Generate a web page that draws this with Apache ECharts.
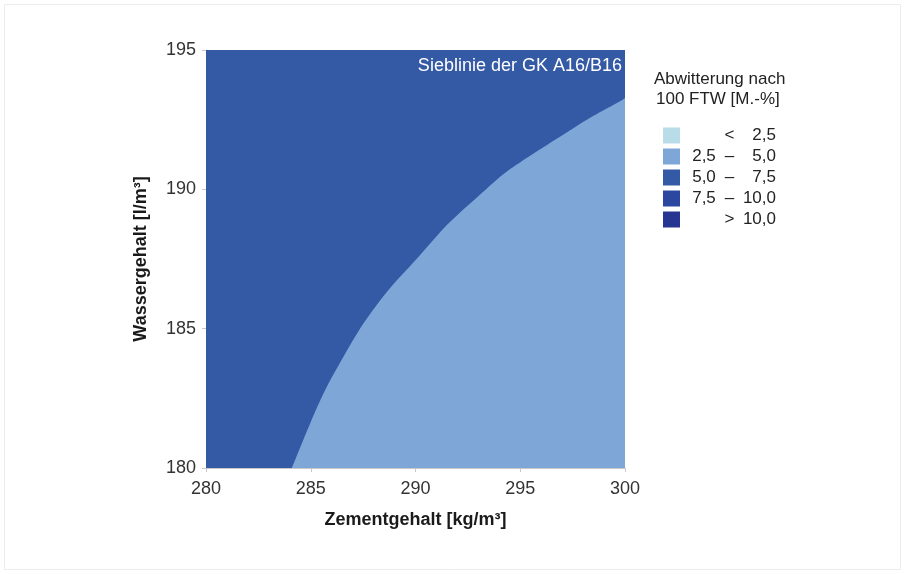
<!DOCTYPE html>
<html>
<head>
<meta charset="utf-8">
<script src="https://cdn.jsdelivr.net/npm/echarts@6/dist/echarts.min.js"></script>
<style>html,body{margin:0;padding:0;background:#fff;}#c{width:906px;height:574px;}</style>
</head>
<body>
<div id="c"></div>
<script>
// Axis ranges / ticks
const xRange = [280, 300];
const yRange = [180, 195];
const tickStep = 5;

// Legend classes (Abwitterung nach 100 FTW [M.-%])
const classNames = ['< 2,5', '2,5 – 5,0', '5,0 – 7,5', '7,5 – 10,0', '> 10,0'];
const classLeft  = ['', '2,5', '5,0', '7,5', ''];
const classMid   = ['<', '–', '–', '–', '>'];
const classRight = ['2,5', '5,0', '7,5', '10,0', '10,0'];
const classColors = ['#b9dce9', '#7ea7d8', '#3459a5', '#2b47a0', '#263592'];

// Region 5,0 – 7,5 : whole field (upper edge of the domain)
const regionDarkTop = [[280, 195], [300, 195]];
// Region 2,5 – 5,0 : below the boundary curve (Zementgehalt, Wassergehalt)
const boundaryCurve = [
  [284.10, 180.00], [284.97, 181.60], [285.69, 182.80], [286.56, 183.99],
  [287.52, 185.19], [288.71, 186.39], [290.15, 187.58], [291.58, 188.78],
  [293.33, 189.98], [294.25, 190.58], [295.40, 191.17], [297.16, 192.01],
  [298.43, 192.61], [299.87, 193.21], [300.00, 193.28]
];

const chart = echarts.init(document.getElementById('c'), null, {renderer: 'canvas'});
const fontFam = 'Liberation Sans, Arial, sans-serif';

const series = classNames.map((n, i) => {
  let data = [];
  if (i === 2) data = regionDarkTop;
  if (i === 1) data = boundaryCurve;
  return {
    name: n,
    type: 'line',
    data: data,
    smooth: i === 1 ? 0.3 : false,
    showSymbol: false,
    symbol: 'none',
    silent: true,
    z: i === 2 ? 1 : 2,
    itemStyle: {color: classColors[i]},
    lineStyle: {width: 0, color: classColors[i]},
    areaStyle: {color: classColors[i], opacity: 1, origin: 'start'}
  };
});

const option = {
  backgroundColor: '#fff',
  animation: false,
  grid: {left: 206, right: 281, top: 50, bottom: 106, containLabel: false},
  xAxis: {
    type: 'value', min: xRange[0], max: xRange[1], interval: tickStep,
    name: 'Zementgehalt [kg/m³]', nameLocation: 'middle', nameGap: 43,
    nameTextStyle: {fontFamily: fontFam, fontSize: 18, fontWeight: 'bold', color: '#1a1a1a'},
    axisLine: {show: true, lineStyle: {color: '#c8c8c8', width: 1}},
    axisTick: {show: true, length: 4, lineStyle: {color: '#c8c8c8'}},
    axisLabel: {fontFamily: fontFam, fontSize: 18, color: '#333', margin: 12},
    splitLine: {show: false}
  },
  yAxis: {
    type: 'value', min: yRange[0], max: yRange[1], interval: tickStep,
    name: 'Wassergehalt [l/m³]', nameLocation: 'middle', nameGap: 56,
    nameTextStyle: {fontFamily: fontFam, fontSize: 18, fontWeight: 'bold', color: '#1a1a1a'},
    axisLine: {show: true, lineStyle: {color: '#c8c8c8', width: 1}},
    axisTick: {show: true, length: 4, lineStyle: {color: '#c8c8c8'}},
    axisLabel: {fontFamily: fontFam, fontSize: 18, color: '#333', margin: 10},
    splitLine: {show: false}
  },
  legend: {
    orient: 'vertical', left: 663, top: 127, padding: 0,
    itemWidth: 17, itemHeight: 16, itemGap: 4,
    icon: 'rect', selectedMode: false,
    data: classNames.map((n, i) => ({name: n, itemStyle: {color: classColors[i]}})),
    formatter: function (name) {
      const i = classNames.indexOf(name);
      return '{a|' + classLeft[i] + '}{b|' + classMid[i] + '}{c|' + classRight[i] + '}';
    },
    textStyle: {
      fontFamily: fontFam, fontSize: 17, color: '#222',
      rich: {
        a: {width: 38, align: 'right', fontFamily: fontFam, fontSize: 17, color: '#222'},
        b: {width: 13, align: 'center', fontFamily: fontFam, fontSize: 17, color: '#222'},
        c: {width: 40, align: 'right', fontFamily: fontFam, fontSize: 17, color: '#222'}
      }
    }
  },
  graphic: [
    {type: 'rect', silent: true, z: -10,
     shape: {x: 4.5, y: 4.5, width: 896, height: 565}, style: {fill: 'none', stroke: '#ececec', lineWidth: 1}},
    {type: 'text', left: 654, top: 71, silent: true,
     style: {text: 'Abwitterung nach', font: '17px ' + fontFam, fill: '#222'}},
    {type: 'text', left: 656, top: 91, silent: true,
     style: {text: '100 FTW [M.-%]', font: '17px ' + fontFam, fill: '#222'}},
    {type: 'text', right: 284, top: 57, silent: true, z: 100,
     style: {text: 'Sieblinie der GK A16/B16', font: '18px ' + fontFam, fill: '#ffffff'}}
  ],
  series: series
};
chart.setOption(option);
</script>
</body>
</html>
